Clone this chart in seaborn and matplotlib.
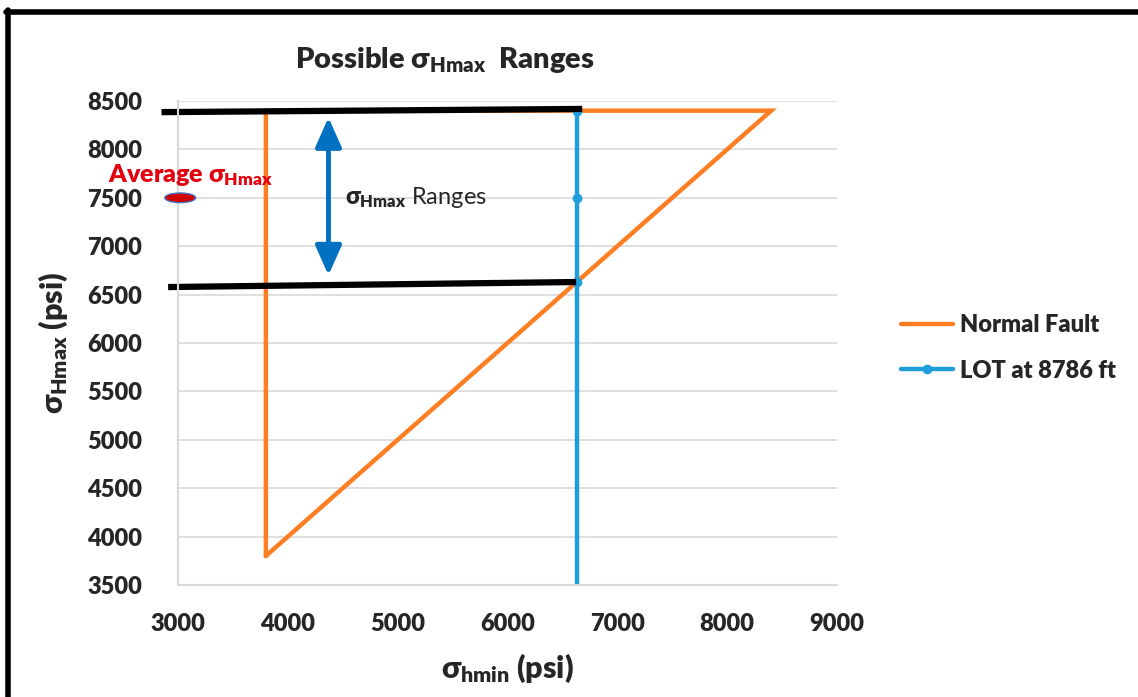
import numpy as np
import pandas as pd
import matplotlib
matplotlib.use("Agg")
import matplotlib.pyplot as plt
import seaborn as sns
from matplotlib.lines import Line2D
from matplotlib.patches import Ellipse

# ---- data ----
nf_x = [3800, 3800, 8400, 3800]
nf_y = [3800, 8400, 8400, 3800]
lot_x = [6630, 6630, 6630, 6630]
lot_y = [3500, 6630, 7500, 8400]
upper_bound_x = [2850, 6680]
upper_bound_y = [8385, 8418]
lower_bound_x = [2910, 6625]
lower_bound_y = [6578, 6630]
avg_x = 3020
avg_y = 7500
arrow_x = 4370
arrow_y = [8330, 6700]
x_ticks = [3000, 4000, 5000, 6000, 7000, 8000, 9000]
y_ticks = [3500, 4000, 4500, 5000, 5500, 6000, 6500, 7000, 7500, 8000, 8500]
series_names = ["Normal Fault", "LOT at 8786 ft"]

sns.set_theme(style="white")
plt.rcParams['font.family'] = ['Lato', 'DejaVu Sans']
W = 'heavy'
plt.rcParams['mathtext.fontset'] = 'custom'
plt.rcParams['mathtext.rm'] = 'Lato:heavy'
plt.rcParams['mathtext.it'] = 'Lato:heavy'
plt.rcParams['mathtext.bf'] = 'Lato:heavy'
plt.rcParams['mathtext.sf'] = 'Lato:heavy'
plt.rcParams['mathtext.fallback'] = 'stixsans'

ORANGE = '#FD7E23'
BLUE = '#1E9FDC'
DBLUE = '#0070C0'
GRID = '#D9D9D9'

fig = plt.figure(figsize=(11.38, 6.97), dpi=100)
ax = fig.add_axes([178/1138, 1-585/697, (837-178)/1138, (585-101)/697])

df_nf = pd.DataFrame({"x": nf_x, "y": nf_y})
df_lot = pd.DataFrame({"x": lot_x, "y": lot_y})
sns.lineplot(data=df_nf, x="x", y="y", sort=False, estimator=None, ax=ax,
             color=ORANGE, linewidth=3.2, label=series_names[0],
             solid_joinstyle='miter')
sns.lineplot(data=df_lot, x="x", y="y", sort=False, estimator=None, ax=ax,
             color=BLUE, linewidth=3.2, marker='o', markersize=7,
             markeredgewidth=0, markevery=[1, 2, 3], label=series_names[1])

ax.set_xlim(x_ticks[0], x_ticks[-1])
ax.set_ylim(y_ticks[0], y_ticks[-1])
ax.set_xticks(x_ticks)
ax.set_yticks(y_ticks)
ax.set_xticklabels([str(v) for v in x_ticks], fontsize=17, fontweight=W)
ax.set_yticklabels([str(v) for v in y_ticks], fontsize=17, fontweight=W)
ax.tick_params(axis='x', length=0, pad=20)
ax.tick_params(axis='y', length=0, pad=26)
ax.yaxis.grid(True, color=GRID, linewidth=1.2)
ax.xaxis.grid(False)
ax.set_axisbelow(True)
for s in ['top', 'right']:
    ax.spines[s].set_visible(False)
for s in ['left', 'bottom']:
    ax.spines[s].set_color(GRID)
    ax.spines[s].set_linewidth(1.5)

ax.set_xlabel(r'$\sigma_{\mathrm{hmin}}$ (psi)', fontsize=22, fontweight=W, labelpad=12)
ax.set_ylabel(r'$\sigma_{\mathrm{Hmax}}$ (psi)', fontsize=22, fontweight=W, labelpad=12)
ax.set_title(r'Possible $\sigma_{\mathrm{Hmax}}$  Ranges', fontsize=21, fontweight=W, pad=24,
             x=(445-178)/659)

# annotation lines
ax.plot(upper_bound_x, upper_bound_y, color='black', linewidth=4.5, clip_on=False, solid_capstyle='butt')
ax.plot(lower_bound_x, lower_bound_y, color='black', linewidth=4.5, clip_on=False, solid_capstyle='butt')
ax.annotate('', xy=(arrow_x, arrow_y[0]), xytext=(arrow_x, arrow_y[1]),
            arrowprops=dict(arrowstyle='<|-|>,head_length=0.45,head_width=0.2', color=DBLUE, lw=3.5,
                            mutation_scale=40, shrinkA=0, shrinkB=0))
ax.text(4520, 7500, r'$\sigma_{\mathrm{Hmax}}$ Ranges', fontsize=17, va='center', ha='left')
ax.text(2360, 7740, r'Average $\sigma_{\mathrm{Hmax}}$', fontsize=18, fontweight=W,
        color='#E3000F', va='center', ha='left', clip_on=False)
ell = Ellipse((avg_x, avg_y), width=280, height=100, facecolor='#D00000',
              edgecolor='#4472C4', linewidth=1, clip_on=False, zorder=5)
ax.add_patch(ell)

leg = ax.legend(loc='center left', bbox_to_anchor=(1.065, 0.49), frameon=False,
                prop={'size': 17, 'weight': W}, handlelength=2.2,
                handletextpad=0.3, labelspacing=1.0)

# figure border (left and top)
fig.add_artist(Line2D([8/1138, 8/1138], [0, 1-10/697], color='black', linewidth=4, transform=fig.transFigure))
fig.add_artist(Line2D([6/1138, 1], [1-12/697, 1-12/697], color='black', linewidth=4, transform=fig.transFigure))

fig.savefig('out.png', dpi=100)
